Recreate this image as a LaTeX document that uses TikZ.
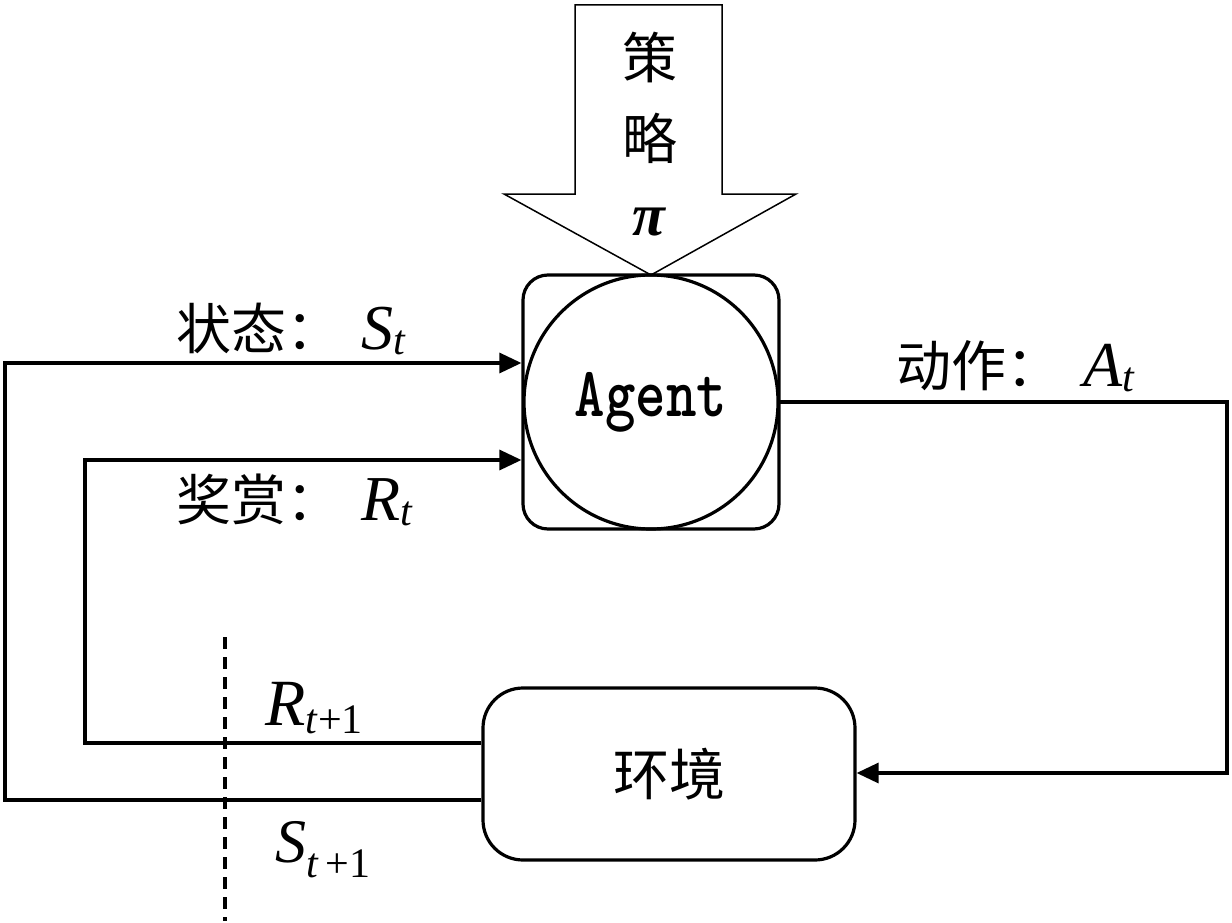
\documentclass[tikz,border=0pt]{standalone}
\usepackage{fontspec}
\setmainfont{Liberation Serif}
\newfontfamily\cjk{Noto Sans CJK SC}
\usetikzlibrary{arrows.meta}
\newcommand{\mysub}[3]{\textit{#1}\raisebox{#3}{\fontsize{42}{42}\selectfont #2}}
\begin{document}
\begin{tikzpicture}[x=1pt,y=-1pt,
  ln/.style={line width=3.2pt},
  arr/.style={ln, -{Triangle[length=22pt,width=20pt]}},
  lab/.style={inner sep=0pt, anchor=base west, font=\fontsize{64}{64}\selectfont},
  cjkbig/.style={inner sep=0pt, font=\cjk\fontsize{55}{60}\selectfont},
  boxstyle/.style={draw, ln, inner sep=0pt}]
\useasboundingbox (0,0) rectangle (1232,923);
% policy arrow
\draw[line width=1.5pt, line join=miter] (575,5) -- (722,5) -- (722,194) -- (796,194) -- (651,275) -- (504,194) -- (575,194) -- cycle;
\node[cjkbig] (ce) at (650,57) {策};
\node[cjkbig] (lue) at (650,138) {略};
\node[inner sep=0pt, font=\bfseries\fontsize{60}{60}\selectfont] (pi) at (650,222) {\textit{π}};
% agent
\node[boxstyle, rounded corners=25pt, minimum width=256pt, minimum height=254pt] (abox) at (651,402) {};
\node[boxstyle, circle, minimum size=254pt] (agent) at (651,402)
  {\scalebox{1}[1.22]{\ttfamily\bfseries\fontsize{58}{58}\selectfont Agent}};
% environment
\node[boxstyle, rounded corners=40pt, minimum width=372pt, minimum height=172pt,
      font=\cjk\fontsize{56}{60}\selectfont] (env) at (669,774) {环境};
% helper coordinates
\coordinate (yS) at (0,363);
\coordinate (yR) at (0,460);
\coordinate (yRo) at (0,743);
\coordinate (ySo) at (0,800);
\coordinate (yA) at (0,773);
% connectors
\draw[arr] (env.west |- ySo) -- (5,800) -- (5,363) -- (abox.west |- yS);
\draw[arr] (env.west |- yRo) -- (85,743) -- (85,460) -- (abox.west |- yR);
\draw[arr] (agent.east) -- (1227,402) -- (1227,773) -- (env.east |- yA);
% dashed cut
\coordinate (d1) at (225,637);
\coordinate (d2) at (225,921);
\draw[ln, dash pattern=on 12pt off 8pt] (d1) -- (d2);
% labels
\node[lab] (lS) at (176,349) {{\cjk\fontsize{55}{60}\selectfont 状态：}\hspace{20pt}\mysub{S}{\textit{t}}{-5pt}};
\node[lab] (lR) at (176,520) {{\cjk\fontsize{55}{60}\selectfont 奖赏：}\hspace{20pt}\mysub{R}{\textit{t}}{-5pt}};
\node[lab] (lA) at (896,386) {{\cjk\fontsize{55}{60}\selectfont 动作：}\hspace{22pt}\mysub{A}{\textit{t}}{-5pt}};
\node[lab, font=\fontsize{66}{66}\selectfont] (lRo) at (265,725) {\mysub{R}{\textit{t}+1}{-8pt}};
\node[lab, font=\fontsize{62}{62}\selectfont] (lSo) at (275,862) {\mysub{S}{\textit{t}\,+1}{-15pt}};
\end{tikzpicture}
\end{document}
